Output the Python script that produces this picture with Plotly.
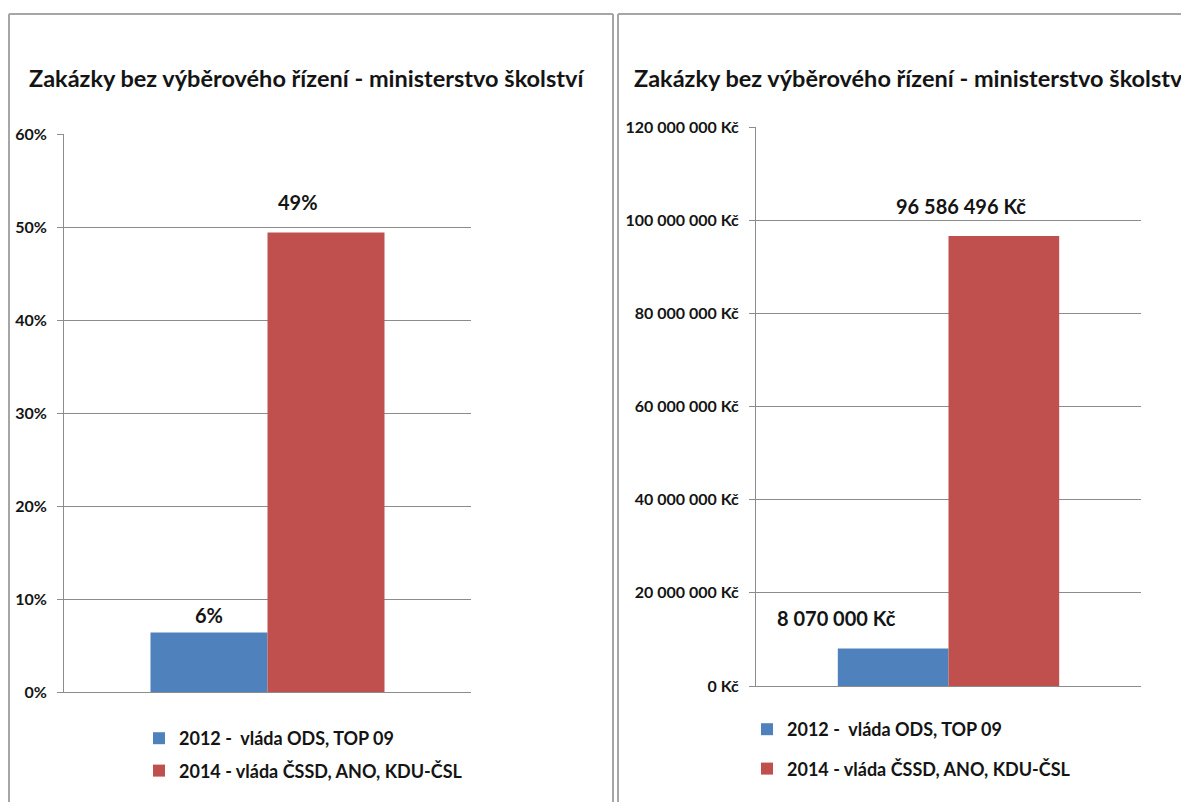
import plotly.graph_objects as go

# the page keeps its default 8px body margin, so the figure is sized to fit
# inside the 1189x810 window and positions below are given in window pixels
WIN_W, WIN_H = 1189, 810
PAGE_MARGIN = 8
W, H = WIN_W - 2 * PAGE_MARGIN, WIN_H - 2 * PAGE_MARGIN

TITLE = "Zakázky bez výběrového řízení - ministerstvo školství"
CATEGORY = ["ministerstvo školství"]
SERIES_NAMES = ["2012 - \u00a0vláda ODS, TOP 09", "2014 - vláda ČSSD, ANO, KDU-ČSL"]
SERIES_COLORS = ["#4f81bd", "#c0504d"]
SHARE_VALUES = [0.064, 0.494]
AMOUNT_VALUES = [8070000, 96586496]

FONT = "Lato"
GRID = "#8c8c8c"
BORDER = "#a6a6a6"
TEXT = "#141414"


def px_x(value):
    return (value - PAGE_MARGIN) / W


def px_y(value):
    return 1 - (value - PAGE_MARGIN) / H


fig = go.Figure()

for i, name in enumerate(SERIES_NAMES):
    fig.add_trace(
        go.Bar(
            x=CATEGORY,
            y=[SHARE_VALUES[i]],
            name=name,
            marker={"color": SERIES_COLORS[i], "line": {"width": 0}},
            xaxis="x",
            yaxis="y",
            legend="legend",
            legendgroup=f"l{i}",
        )
    )
for i, name in enumerate(SERIES_NAMES):
    fig.add_trace(
        go.Bar(
            x=CATEGORY,
            y=[AMOUNT_VALUES[i]],
            name=name,
            marker={"color": SERIES_COLORS[i], "line": {"width": 0}},
            xaxis="x2",
            yaxis="y2",
            legend="legend2",
            legendgroup=f"r{i}",
        )
    )

# data labels (manually nudged like in the original sheet)
label_font = {"family": FONT, "size": 20, "color": TEXT, "weight": "bold"}
share_shifts = [(0, 17), (-28, 31)]
amount_shifts = [(-57, 30), (-42, 30)]
half = (1 - 0.425) / 4
for i, value in enumerate(SHARE_VALUES):
    fig.add_annotation(
        x=(-half if i == 0 else half), y=value, xref="x", yref="y",
        text=f"{round(value * 100)}%", showarrow=False,
        xshift=share_shifts[i][0], yshift=share_shifts[i][1], yanchor="middle",
        font=label_font,
    )
half2 = (1 - 0.43) / 4
for i, value in enumerate(AMOUNT_VALUES):
    label = f"{value:,}".replace(",", " ") + " Kč"
    fig.add_annotation(
        x=(-half2 if i == 0 else half2), y=value, xref="x2", yref="y2",
        text=label, showarrow=False,
        xshift=amount_shifts[i][0], yshift=amount_shifts[i][1], yanchor="middle",
        font=label_font,
    )

for x0 in (27, 632):
    fig.add_annotation(
        x=px_x(x0), y=px_y(78), xref="paper", yref="paper",
        xanchor="left", yanchor="middle", text=TITLE, showarrow=False,
        font={"family": FONT, "size": 23.5, "color": TEXT, "weight": "bold"},
    )

# panel borders
line = {"color": BORDER, "width": 2}
left_edge = max(px_x(7), 1 / W)
fig.add_shape(type="line", xref="paper", yref="paper", x0=left_edge, x1=left_edge, y0=0, y1=px_y(14), line=line)
fig.add_shape(type="line", xref="paper", yref="paper", x0=left_edge, x1=px_x(613), y0=px_y(14), y1=px_y(14), line=line)
fig.add_shape(type="line", xref="paper", yref="paper", x0=px_x(613), x1=px_x(613), y0=0, y1=px_y(14), line=line)
fig.add_shape(type="line", xref="paper", yref="paper", x0=px_x(618), x1=px_x(618), y0=0, y1=px_y(14), line=line)
fig.add_shape(type="line", xref="paper", yref="paper", x0=px_x(618), x1=1, y0=px_y(14), y1=px_y(14), line=line)

tick_font = {"family": FONT, "size": 16, "color": TEXT, "weight": "bold"}
yaxis_common = dict(
    showgrid=True, gridcolor=GRID, gridwidth=1,
    showline=True, linecolor=GRID, linewidth=1,
    ticks="outside", ticklen=6, tickcolor=GRID, ticklabelstandoff=7,
    tickfont=tick_font, zeroline=False, fixedrange=True, automargin=False,
)
xaxis_common = dict(
    showticklabels=False, showline=True, linecolor=GRID, linewidth=1,
    ticks="", showgrid=False, fixedrange=True, automargin=False,
)

legend_font = {"family": FONT, "size": 18, "color": TEXT, "weight": "bold"}

fig.update_layout(
    template="none",
    width=W, height=H, autosize=False,
    margin={"l": 0, "r": 0, "t": 0, "b": 0, "pad": 0, "autoexpand": False},
    paper_bgcolor="white", plot_bgcolor="white",
    separators=", ",
    barmode="group",
    bargap=0.425,
    bargroupgap=0,
    xaxis=dict(domain=[px_x(64), px_x(471)], anchor="y", **xaxis_common),
    yaxis=dict(domain=[px_y(692), px_y(134)], anchor="x", range=[0, 0.6], dtick=0.1,
               tickformat=".0%", **yaxis_common),
    xaxis2=dict(domain=[px_x(756), px_x(1141)], anchor="y2", **xaxis_common),
    yaxis2=dict(domain=[px_y(686), px_y(127)], anchor="x2", range=[0, 120000000], dtick=20000000,
                tickformat=",.0f", ticksuffix=" Kč", **yaxis_common),
    legend=dict(x=px_x(139), y=px_y(720), xanchor="left", yanchor="top",
                xref="container", yref="container",
                font=legend_font, tracegroupgap=6, traceorder="grouped",
                bgcolor="rgba(0,0,0,0)", borderwidth=0, itemwidth=30),
    legend2=dict(x=px_x(747), y=px_y(711), xanchor="left", yanchor="top",
                 xref="container", yref="container",
                 font=legend_font, tracegroupgap=13, traceorder="grouped",
                 bgcolor="rgba(0,0,0,0)", borderwidth=0, itemwidth=30),
)

fig.write_html("out.html")
